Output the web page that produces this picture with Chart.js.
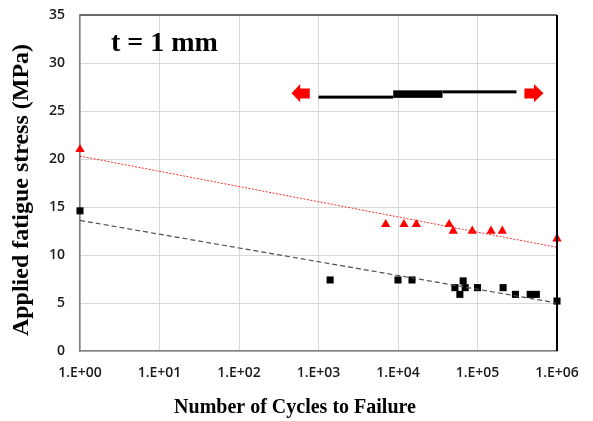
<!DOCTYPE html>
<html>
<head>
<meta charset="utf-8">
<script src="https://cdn.jsdelivr.net/npm/chart.js@4.4.1/dist/chart.umd.min.js"></script>
<style>
  html, body { margin: 0; padding: 0; background: #fff; }
  #wrap { width: 593px; height: 421px; }
</style>
</head>
<body>
<div id="wrap"><canvas id="fatigueChart" width="593" height="421"></canvas></div>
<script>
// Black squares (first series)
const blackCycles = [1, 1400, 10000, 15000, 52000, 60000, 66000, 70000, 100000, 210000, 300000, 460000, 550000, 1000000];
const blackStress = [14.6, 7.4, 7.4, 7.4, 6.6, 5.9, 7.3, 6.6, 6.6, 6.6, 5.9, 5.9, 5.9, 5.2];

// Red triangles (second series)
const redCycles = [1, 7000, 11900, 17000, 44000, 49500, 86000, 148000, 205000, 1000000];
const redStress = [21.0, 13.2, 13.2, 13.2, 13.2, 12.5, 12.5, 12.5, 12.5, 11.7];

// Trend lines (end points)
const trendCycles = [1, 1000000];
const blackTrend = [13.6, 5.0];
const redTrend = [20.3, 10.8];

// Axis ticks
const xTickValues = [1, 10, 100, 1000, 10000, 100000, 1000000];
const xTickLabels = ['1.E+00', '1.E+01', '1.E+02', '1.E+03', '1.E+04', '1.E+05', '1.E+06'];
const yTickValues = [0, 5, 10, 15, 20, 25, 30, 35];

const toPoints = (xs, ys) => xs.map((x, i) => ({ x: x, y: ys[i] }));

// draws the title text, axis titles and the arrow sketch
const decorPlugin = {
    id: 'decor',
    afterDatasetsDraw(chart) {
        const ctx = chart.ctx;
        const xs = chart.scales.x;
        const ys = chart.scales.y;
        const px = (e) => xs.getPixelForValue(Math.pow(10, e));
        const py = (v) => ys.getPixelForValue(v);

        ctx.save();
        // arrow bar
        ctx.fillStyle = '#000';
        ctx.fillRect(px(3.0), py(26.6), px(3.94) - px(3.0), 3);
        ctx.fillRect(px(3.94), py(27.15), px(4.56) - px(3.94), 7.5);
        ctx.fillRect(px(4.56), py(27.15), px(5.49) - px(4.56), 3);

        // red arrow heads
        ctx.fillStyle = '#ff0000';
        ctx.beginPath();
        ctx.moveTo(px(2.66), py(26.85));
        ctx.lineTo(px(2.77), py(27.8));
        ctx.lineTo(px(2.77), py(27.35));
        ctx.lineTo(px(2.89), py(27.35));
        ctx.lineTo(px(2.89), py(26.3));
        ctx.lineTo(px(2.77), py(26.3));
        ctx.lineTo(px(2.77), py(25.9));
        ctx.closePath();
        ctx.fill();

        ctx.beginPath();
        ctx.moveTo(px(5.83), py(26.85));
        ctx.lineTo(px(5.71), py(27.8));
        ctx.lineTo(px(5.71), py(27.35));
        ctx.lineTo(px(5.59), py(27.35));
        ctx.lineTo(px(5.59), py(26.3));
        ctx.lineTo(px(5.71), py(26.3));
        ctx.lineTo(px(5.71), py(25.9));
        ctx.closePath();
        ctx.fill();

        // plot border (top and right)
        const a = chart.chartArea;
        ctx.strokeStyle = '#404040';
        ctx.lineWidth = 1.5;
        ctx.beginPath();
        ctx.moveTo(a.left, a.top);
        ctx.lineTo(a.right, a.top);
        ctx.stroke();
        ctx.strokeStyle = '#000';
        ctx.lineWidth = 2;
        ctx.beginPath();
        ctx.moveTo(a.right, a.top);
        ctx.lineTo(a.right, a.bottom);
        ctx.stroke();

        // in-plot label
        ctx.fillStyle = '#000';
        ctx.font = 'bold 28px "Liberation Serif", serif';
        ctx.textAlign = 'left';
        ctx.textBaseline = 'alphabetic';
        ctx.fillText('t = 1 mm', 111, 51);

        // axis titles
        ctx.font = 'bold 20px "Liberation Serif", serif';
        ctx.textAlign = 'center';
        ctx.textBaseline = 'middle';
        ctx.fillText('Number of Cycles to Failure', 295, 408);

        ctx.font = 'bold 24px "Liberation Serif", serif';
        ctx.translate(22, 190);
        ctx.rotate(-Math.PI / 2);
        ctx.fillText('Applied fatigue stress (MPa)', 0, 0);
        ctx.restore();
    }
};

const ctx = document.getElementById('fatigueChart').getContext('2d');
new Chart(ctx, {
    type: 'scatter',
    data: {
        datasets: [
            {
                type: 'line',
                data: toPoints(trendCycles, redTrend),
                borderColor: '#ff3030',
                borderWidth: 1,
                borderDash: [2, 1.5],
                pointRadius: 0,
                fill: false
            },
            {
                type: 'line',
                data: toPoints(trendCycles, blackTrend),
                borderColor: '#505050',
                borderWidth: 1.2,
                borderDash: [5, 3],
                pointRadius: 0,
                fill: false
            },
            {
                data: toPoints(redCycles, redStress),
                pointStyle: 'triangle',
                pointRadius: 5.4,
                backgroundColor: '#ff0000',
                borderColor: '#ff0000',
                borderWidth: 0,
                clip: false
            },
            {
                data: toPoints(blackCycles, blackStress),
                pointStyle: 'rect',
                pointRadius: 5,
                backgroundColor: '#000',
                borderColor: '#000',
                borderWidth: 0,
                clip: false
            }
        ]
    },
    options: {
        responsive: false,
        animation: false,
        devicePixelRatio: 1,
        layout: { padding: { left: 0, right: 36, top: 15, bottom: 0 } },
        plugins: {
            legend: { display: false },
            tooltip: { enabled: false }
        },
        scales: {
            x: {
                type: 'logarithmic',
                min: 1,
                max: 1000000,
                afterBuildTicks: (scale) => {
                    scale.ticks = xTickValues.map(v => ({ value: v }));
                },
                afterFit: (scale) => {
                    scale.height = 70;
                    scale.paddingLeft = 0;
                    scale.paddingRight = 0;
                },
                ticks: {
                    autoSkip: false,
                    maxRotation: 0,
                    padding: 14,
                    color: '#1a1a1a',
                    font: { family: '"Open Sans", sans-serif', size: 14, weight: '600' },
                    callback: (value) => {
                        const i = xTickValues.indexOf(value);
                        return i >= 0 ? xTickLabels[i] : '';
                    }
                },
                grid: { color: '#d9d9d9', lineWidth: 1, drawTicks: false },
                border: { color: '#7f7f7f', width: 1.5 }
            },
            y: {
                min: 0,
                max: 35,
                afterBuildTicks: (scale) => {
                    scale.ticks = yTickValues.map(v => ({ value: v }));
                },
                afterFit: (scale) => {
                    scale.width = 80;
                    scale.paddingTop = 0;
                    scale.paddingBottom = 0;
                },
                ticks: {
                    padding: 15,
                    color: '#1a1a1a',
                    font: { family: '"Open Sans", sans-serif', size: 14, weight: '600' }
                },
                grid: { color: '#d9d9d9', lineWidth: 1, drawTicks: false },
                border: { color: '#7f7f7f', width: 1.5 }
            }
        }
    },
    plugins: [decorPlugin]
});
</script>
</body>
</html>
